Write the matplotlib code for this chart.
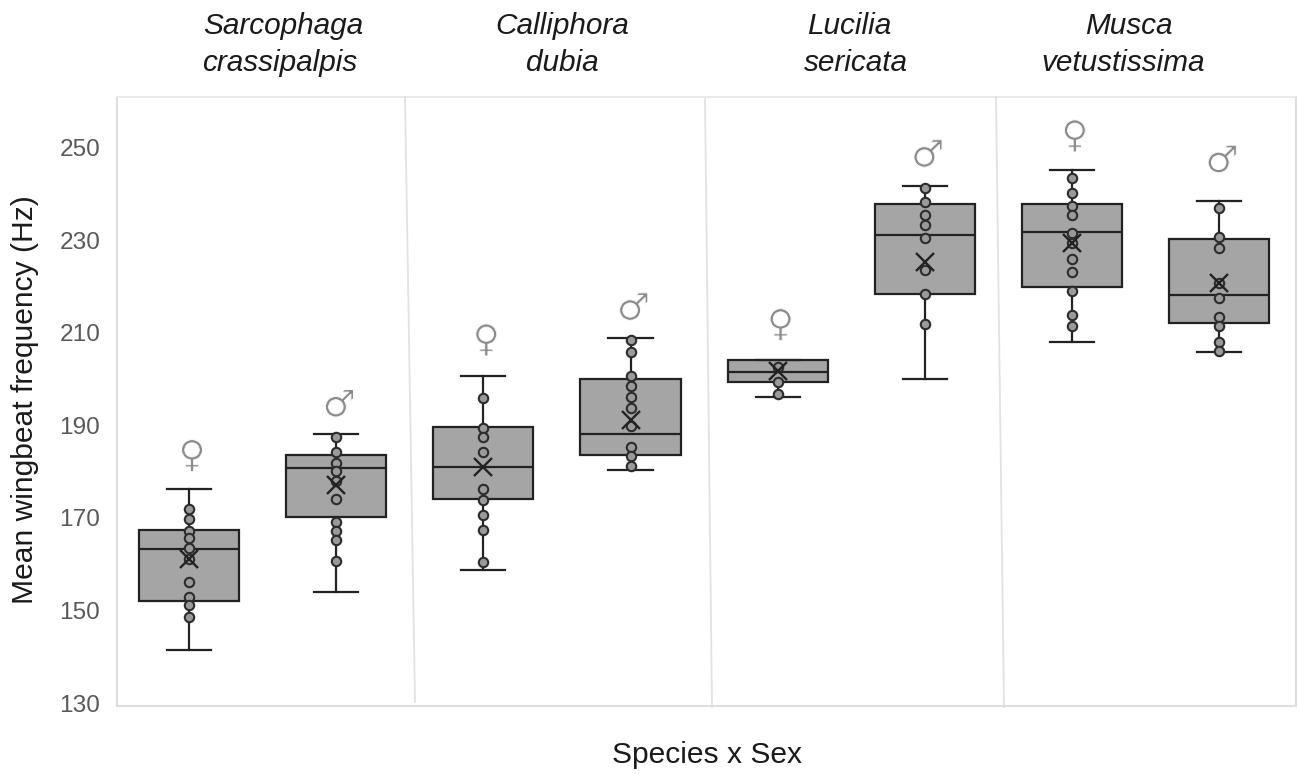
import numpy as np
import matplotlib
matplotlib.use("Agg")
import matplotlib.pyplot as plt
import matplotlib.patheffects as pe
from matplotlib.lines import Line2D
from matplotlib.transforms import ScaledTranslation

W, H = 1297, 774

title_top = ["Sarcophaga", "Calliphora", "Lucilia", "Musca"]
title_bottom = ["crassipalpis", "dubia", "sericata", "vetustissima"]
yticks = [130, 150, 170, 190, 210, 230, 250]

# box stats (Hz), female / male per species
whislo = [141.6, 154.2, 159.0, 180.5, 196.4, 200.2, 208.3, 206.0]
q1 = [152.3, 170.5, 174.3, 183.8, 199.7, 218.6, 220.2, 212.4]
med = [163.4, 181.0, 181.2, 188.3, 201.7, 231.4, 232.0, 218.4]
q3 = [167.6, 183.8, 189.9, 200.2, 204.4, 238.0, 238.0, 230.6]
whishi = [176.5, 188.4, 200.9, 209.1, 204.4, 242.0, 245.4, 238.8]
means = [161.4, 177.4, 181.3, 191.4, 202.0, 225.6, 229.6, 221.0]

points = [
    [172.2, 170.0, 167.5, 165.9, 163.8, 161.4, 156.3, 153.2, 151.4, 148.8],
    [187.8, 184.5, 182.0, 180.3, 178.3, 174.3, 169.4, 167.5, 165.5, 160.9],
    [196.2, 189.7, 187.7, 184.5, 176.5, 174.1, 170.9, 167.6, 160.7],
    [208.6, 206.0, 200.8, 198.7, 196.3, 193.9, 190.0, 185.6, 183.7, 181.5],
    [202.9, 199.7, 197.0],
    [241.5, 238.4, 235.7, 233.6, 230.8, 223.7, 218.6, 212.2],
    [243.8, 240.4, 237.7, 235.7, 231.8, 229.6, 226.1, 223.3, 219.2, 214.1, 211.8],
    [237.3, 231.0, 228.5, 221.0, 217.7, 213.7, 211.8, 208.2, 206.3],
]

sex_symbols = ["♀", "♂", "♀", "♂", "♀", "♂", "♀", "♂"]
symbol_y = [183.4, 194.3, 208.4, 215.2, 211.7, 248.3, 252.5, 247.1]

plt.rcParams["font.family"] = ["Liberation Sans", "DejaVu Sans"]

fig = plt.figure(figsize=(W / 100, H / 100), dpi=100)
ax = fig.add_axes([117 / W, 1 - 706 / H, (1296 - 117) / W, (706 - 97) / H])

positions = np.arange(1, 9)
stats = []
for i in range(8):
    stats.append({"whislo": whislo[i], "q1": q1[i], "med": med[i], "q3": q3[i],
                  "whishi": whishi[i], "mean": means[i], "fliers": []})

dark = "#222222"
ax.bxp(stats, positions=positions, widths=0.68, patch_artist=True, showmeans=True,
       showcaps=True, showfliers=False, capwidths=0.3,
       boxprops=dict(facecolor="#a5a5a5", edgecolor=dark, linewidth=1.6),
       medianprops=dict(color=dark, linewidth=1.6),
       whiskerprops=dict(color=dark, linewidth=1.6),
       capprops=dict(color=dark, linewidth=1.6),
       meanprops=dict(marker="x", markersize=12.5, markeredgecolor=dark,
                      markeredgewidth=1.7, markerfacecolor="none", zorder=6))

for pos, vals in zip(positions, points):
    ax.scatter([pos] * len(vals), vals, s=46, facecolor="#9a9a9a", edgecolor="#2c2c2c",
               linewidth=1.5, zorder=5)

for pos, sym, y in zip(positions, sex_symbols, symbol_y):
    ax.text(pos + 0.02, y, sym, family="DejaVu Sans", fontsize=27, color="#8c8c8c",
            ha="center", va="center",
            path_effects=[pe.Normal(), pe.Stroke(linewidth=0.7, foreground="white")])

ax.set_xlim(0.51, 8.523)
ax.set_ylim(129.57, 261.2)
ax.set_xticks([])
ax.set_yticks(yticks)
ax.tick_params(axis="y", length=0, labelsize=17.6, labelcolor="#595959", pad=12)
for lbl in ax.get_yticklabels():
    lbl.set_transform(lbl.get_transform() + ScaledTranslation(0, 1 / 100, fig.dpi_scale_trans))

for side in ["right", "left", "bottom"]:
    ax.spines[side].set_color("#dedede")
    ax.spines[side].set_linewidth(1.5)
ax.spines["top"].set_color("#e8e8e8")
ax.spines["top"].set_linewidth(1.3)

# hand drawn separators between species
for (x0, y0), (x1, y1) in [((405, 97), (415, 702)), ((705, 99), (712, 707)), ((996, 97), (1004, 707))]:
    fig.add_artist(Line2D([x0 / W, x1 / W], [1 - y0 / H, 1 - y1 / H], color="#e2e2e2", linewidth=1.3))

for xc, name in zip([283, 562, 849, 1129], title_top):
    fig.text(xc / W, 1 - 26 / H, name, fontsize=21.4, style="italic", color="#1a1a1a",
             ha="center", va="center")
for xc, name in zip([280, 562, 856, 1123], title_bottom):
    fig.text(xc / W, 1 - 63 / H, name, fontsize=21.4, style="italic", color="#1a1a1a",
             ha="center", va="center")

fig.text(25 / W, 1 - 400 / H, "Mean wingbeat frequency (Hz)", rotation=90, fontsize=21.6,
         color="#1a1a1a", ha="center", va="center")
fig.text(707 / W, 1 - 755 / H, "Species x Sex", fontsize=21.6, color="#1a1a1a",
         ha="center", va="center")

fig.savefig("out.png", dpi=100)
